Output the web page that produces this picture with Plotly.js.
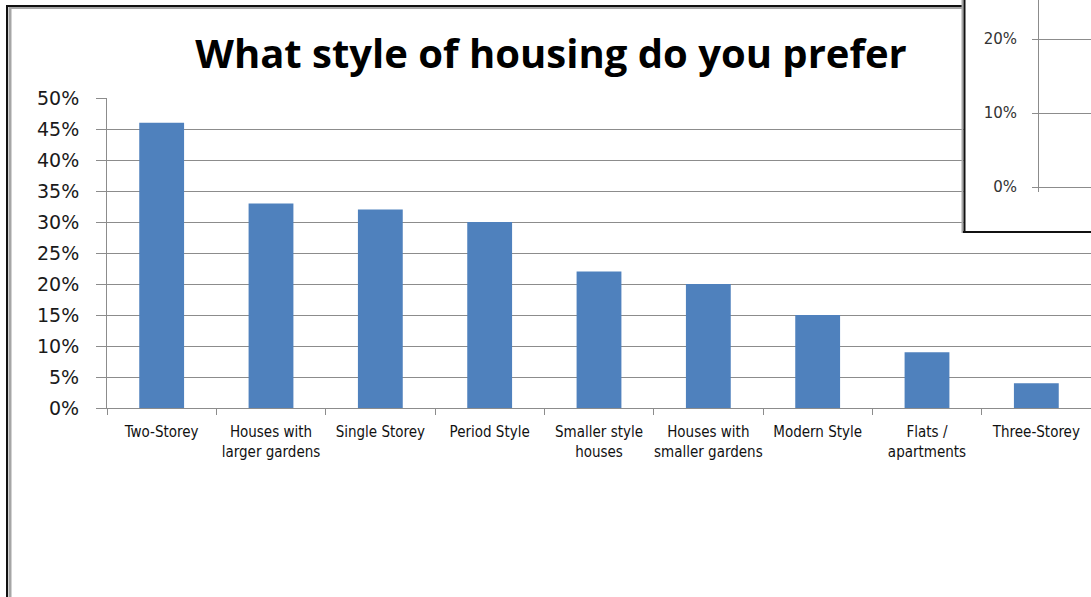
<!DOCTYPE html>
<html>
<head>
<meta charset="utf-8">
<script src="https://cdn.plot.ly/plotly-3.0.1.min.js"></script>
<style>
  html, body { margin: 0; padding: 0; background: #ffffff; }
  #chart { width: 1091px; height: 597px; }
</style>
</head>
<body>
<div id="chart"></div>
<script>
// ---- data ----
const categories = [
  'Two-Storey',
  'Houses with<br>larger gardens',
  'Single Storey',
  'Period Style',
  'Smaller style<br>houses',
  'Houses with<br>smaller gardens',
  'Modern Style',
  'Flats /<br>apartments',
  'Three-Storey'
];
const values = [0.46, 0.33, 0.32, 0.30, 0.22, 0.20, 0.15, 0.09, 0.04];
const yTickVals = [0, 0.05, 0.10, 0.15, 0.20, 0.25, 0.30, 0.35, 0.40, 0.45, 0.50];
const insetTickVals = [0, 0.10, 0.20];
const titleText = 'What style of housing do you prefer';

// ---- layout helpers (page pixels -> paper fractions) ----
const W = 1091, H = 597;
const px = x => x / W;
const py = y => 1 - y / H;

const GRID = '#8c8c8c';
const BAR = '#4F81BD';

const traces = [
  {
    type: 'bar',
    x: categories,
    y: values,
    marker: { color: BAR, line: { width: 0 } },
    hoverinfo: 'x+y',
    showlegend: false
  },
  { type: 'scatter', x: [], y: [], xaxis: 'x2', yaxis: 'y2', showlegend: false, hoverinfo: 'skip' },
  { type: 'scatter', x: [], y: [], xaxis: 'x3', yaxis: 'y3', showlegend: false, hoverinfo: 'skip' }
];

const hiddenAxis = {
  showgrid: false, zeroline: false, showline: false,
  showticklabels: false, ticks: '', fixedrange: true
};

const layout = {
  width: W, height: H,
  margin: { l: 0, r: 0, t: 0, b: 0, pad: 0 },
  paper_bgcolor: '#ffffff',
  plot_bgcolor: '#ffffff',
  bargap: 0.59,
  showlegend: false,
  title: {
    text: '<b>' + titleText + '</b>',
    font: { family: '"Open Sans", Lato, sans-serif', size: 40, color: '#000000' },
    x: px(551), xanchor: 'center', xref: 'container',
    y: py(54), yanchor: 'middle', yref: 'container'
  },
  xaxis: {
    domain: [px(107), 1],
    type: 'category',
    anchor: 'y',
    tickson: 'boundaries',
    ticks: 'outside', ticklen: 6, tickwidth: 1, tickcolor: GRID,
    showline: true, linecolor: GRID, linewidth: 1,
    showgrid: false, zeroline: false,
    tickangle: 0,
    ticklabelstandoff: 10,
    tickfont: { family: '"Liberation Sans Narrow", "DejaVu Sans Condensed", "Roboto Condensed", Roboto, sans-serif', size: 15, color: '#111111' },
    fixedrange: true
  },
  yaxis: {
    domain: [py(408), py(98)],
    anchor: 'x',
    range: [0, 0.5],
    tickvals: yTickVals,
    tickformat: '.0%',
    ticks: 'outside', ticklen: 10, tickwidth: 1, tickcolor: GRID,
    showline: true, linecolor: GRID, linewidth: 1,
    showgrid: true, gridcolor: GRID, gridwidth: 1,
    zeroline: false,
    ticklabelstandoff: 13,
    tickfont: { family: '"DejaVu Sans", sans-serif', size: 19, color: '#1a1a1a' },
    fixedrange: true
  },
  // white cover panel of the overlapping window
  xaxis2: Object.assign({ domain: [px(965), 1], anchor: 'y2' }, hiddenAxis),
  yaxis2: Object.assign({ domain: [py(232), 1], anchor: 'x2' }, hiddenAxis),
  // axis of the overlapping window
  xaxis3: Object.assign({ domain: [px(1039), 1], anchor: 'y3', range: [0, 1] }, hiddenAxis),
  yaxis3: {
    domain: [py(192), 1],
    anchor: 'x3',
    range: [-0.00676, 0.2527],
    tickvals: insetTickVals,
    tickformat: '.0%',
    ticks: 'outside', ticklen: 6, tickwidth: 1, tickcolor: GRID,
    showline: true, linecolor: GRID, linewidth: 1,
    showgrid: true, gridcolor: GRID, gridwidth: 1,
    zeroline: false,
    ticklabelstandoff: 12,
    tickfont: { family: '"DejaVu Sans", sans-serif', size: 15, color: '#333333' },
    fixedrange: true
  },
  shapes: [
    // outer chart frame (left + top)
    { type: 'line', xref: 'paper', yref: 'paper', x0: px(10), x1: px(10), y0: py(7), y1: 0, line: { color: '#a6a6a6', width: 3 }, layer: 'above' },
    { type: 'line', xref: 'paper', yref: 'paper', x0: px(7), x1: px(7), y0: py(5), y1: 0, line: { color: '#111111', width: 2 }, layer: 'above' },
    { type: 'line', xref: 'paper', yref: 'paper', x0: px(9), x1: px(963), y0: py(8), y1: py(8), line: { color: '#a6a6a6', width: 2 }, layer: 'above' },
    { type: 'line', xref: 'paper', yref: 'paper', x0: px(6), x1: px(963), y0: py(6), y1: py(6), line: { color: '#111111', width: 2 }, layer: 'above' },
    // overlapping window frame (left + bottom)
    { type: 'line', xref: 'paper', yref: 'paper', x0: px(962.5), x1: px(962.5), y0: py(233), y1: 1, line: { color: '#a6a6a6', width: 2 }, layer: 'above' },
    { type: 'line', xref: 'paper', yref: 'paper', x0: px(964.5), x1: px(964.5), y0: py(233), y1: 1, line: { color: '#111111', width: 2 }, layer: 'above' },
    { type: 'line', xref: 'paper', yref: 'paper', x0: px(963), x1: 1, y0: py(232), y1: py(232), line: { color: '#111111', width: 2 }, layer: 'above' }
  ]
};

Plotly.newPlot('chart', traces, layout, { displayModeBar: false, staticPlot: true });
</script>
</body>
</html>
